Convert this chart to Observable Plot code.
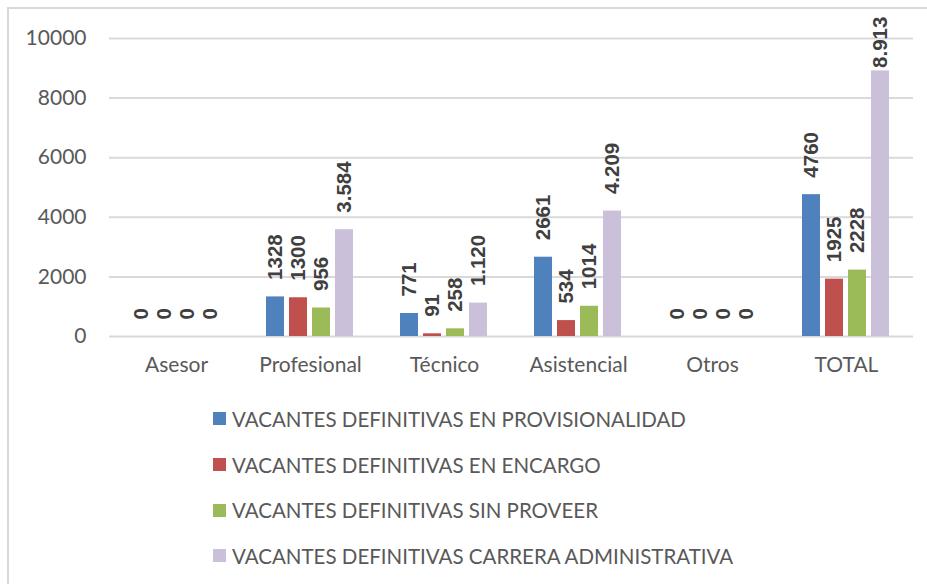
<!DOCTYPE html>
<html>
<head>
<meta charset="utf-8">
<script src="https://cdn.jsdelivr.net/npm/d3@7"></script>
<script src="https://cdn.jsdelivr.net/npm/@observablehq/plot@0.6"></script>
<style>
  html, body { margin: 0; padding: 0; background: #ffffff; }
  body { width: 927px; height: 584px; position: relative; overflow: hidden; font-family: Lato, "Open Sans", sans-serif; }
  #frame { position: absolute; left: 7px; top: 7px; width: 940px; height: 600px; border: 2px solid #d9d9d9; box-sizing: border-box; }
  #chart { position: absolute; left: 0; top: 0; }
  #legend { position: absolute; left: 213px; top: 396px; }
  .row { height: 45.7px; display: flex; align-items: center; font-size: 20.5px; color: #595959; white-space: nowrap; }
  .sw { width: 13px; height: 13px; margin-right: 6px; flex: none; }
</style>
</head>
<body>
<div id="frame"></div>
<div id="chart"></div>
<div id="legend"></div>
<script>
const categories = ["Asesor", "Profesional", "Técnico", "Asistencial", "Otros", "TOTAL"];
const series = [
  "VACANTES DEFINITIVAS EN PROVISIONALIDAD",
  "VACANTES DEFINITIVAS EN ENCARGO",
  "VACANTES DEFINITIVAS SIN PROVEER",
  "VACANTES DEFINITIVAS CARRERA ADMINISTRATIVA"
];
const provisionalidad = [0, 1328, 771, 2661, 0, 4760];
const encargo = [0, 1300, 91, 534, 0, 1925];
const sinProveer = [0, 956, 258, 1014, 0, 2228];
const carrera = [0, 3584, 1120, 4209, 0, 8913];
const yTicks = [0, 2000, 4000, 6000, 8000, 10000];
const colors = ["#4F81BD", "#C0504D", "#9BBB59", "#CBC0DA"];

const seriesValues = [provisionalidad, encargo, sinProveer, carrera];
const dotted = d3.formatLocale({decimal: ",", thousands: ".", grouping: [3], currency: ["", ""]}).format(",");
const data = categories.flatMap((c, i) => series.map((s, j) => ({
  category: c, series: s, value: seriesValues[j][i],
  label: j === 3 ? dotted(seriesValues[j][i]) : String(seriesValues[j][i])
})));

const labelStyle = {
  fx: "category", x: "series", y: "value", text: "label",
  rotate: -90, textAnchor: "start",
  fontWeight: "bold", fontFamily: "'Liberation Sans', Arial, sans-serif", fontSize: 20.5, fill: "#404040"
};

const chart = Plot.plot({
  width: 927,
  height: 390,
  marginLeft: 109,
  marginRight: 14,
  marginTop: 38,
  marginBottom: 54,
  style: {fontFamily: "Lato, 'Open Sans', sans-serif", fontSize: "21px", color: "#595959", background: "transparent", overflow: "visible"},
  fx: {domain: categories, padding: 0, label: null, axis: "bottom", tickSize: 0, tickPadding: 21},
  x: {domain: series, axis: null, paddingInner: 0.21, paddingOuter: 0.9},
  y: {domain: [0, 10000], ticks: yTicks, tickSize: 0, tickPadding: 23, label: null, tickFormat: d => String(d)},
  color: {domain: series, range: colors},
  marks: [
    Plot.ruleY(yTicks, {stroke: "#d9d9d9", strokeWidth: 2}),
    Plot.barY(data, {fx: "category", x: "series", y: "value", fill: "series"}),
    Plot.text(data.filter(d => d.value < 8000), {...labelStyle, dy: -17}),
    Plot.text(data.filter(d => d.value >= 8000), {...labelStyle, dy: -3})
  ]
});
document.getElementById("chart").appendChild(chart);

const legend = document.getElementById("legend");
series.forEach((s, j) => {
  const row = document.createElement("div");
  row.className = "row";
  const sw = document.createElement("span");
  sw.className = "sw";
  sw.style.background = colors[j];
  const t = document.createElement("span");
  t.textContent = s;
  row.appendChild(sw);
  row.appendChild(t);
  legend.appendChild(row);
});
</script>
</body>
</html>
